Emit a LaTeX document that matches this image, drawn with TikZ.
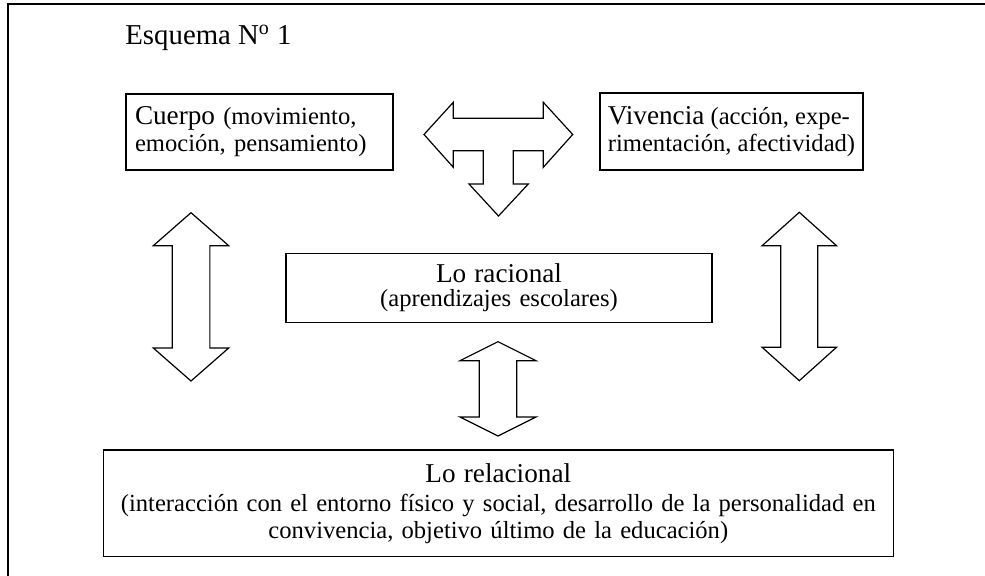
\documentclass[tikz,border=0pt]{standalone}
\usepackage{fontspec}
\setmainfont{Liberation Serif}
\newcommand{\headfont}{\fontsize{13.6}{15}\selectfont}
\newcommand{\bodyfont}{\fontsize{12.3}{13.4}\selectfont}
\newcommand{\vblockarrow}[6]{\draw[blockarrow] (#1,#2) -- ({#1+#5},{#2+#6}) -- ({#1+#4},{#2+#6}) -- ({#1+#4},{#3-#6}) -- ({#1+#5},{#3-#6}) -- (#1,#3) -- ({#1-#5},{#3-#6}) -- ({#1-#4},{#3-#6}) -- ({#1-#4},{#2+#6}) -- ({#1-#5},{#2+#6}) -- cycle;}
\begin{document}
\begin{tikzpicture}[x=0.5pt,y=-0.5pt,
    box/.style={draw,line width=0.6pt,inner sep=0pt,font=\bodyfont},
    blockarrow/.style={draw,line width=0.6pt}]
    \useasboundingbox (0,0) rectangle (985,576);
    \draw[line width=0.6pt] (8,576) -- (8,4) -- (985,4);
    \node[anchor=base west,inner sep=0pt,font=\fontsize{14.4}{16}\selectfont] (esquema) at (125,45) {Esquema N\textsuperscript{o} 1};
    \node[box,minimum width=133.5pt,minimum height=38pt,text width=124.5pt,align=left] (cuerpo) at (259.5,132)
        {{\headfont Cuerpo} (movimiento,\\emoción, pensamiento)};
    \node[box,minimum width=131.5pt,minimum height=38.5pt,align=left] (vivencia) at (731.5,131.5)
        {{\headfont Vivencia} (acción, expe-\\rimentación, afectividad)};
    \node[box,minimum width=213pt,minimum height=34.5pt,text width=205pt,align=center] (racional) at (499,287.8)
        {{\headfont Lo racional}\\[-1.4pt](aprendizajes escolares)};
    \node[box,minimum width=395pt,minimum height=53.35pt,text width=390pt,align=center] (relacional) at (498.3,503.3)
        {{\headfont Lo relacional}\\[1.1pt](interacción con el entorno físico y social, desarrollo de la personalidad en\\convivencia, objetivo último de la educación)};
    \draw[blockarrow] (424,134.5) -- (453.3,102.3) -- (453.3,118.3) -- (543.3,118.3) -- (543.3,102.3) -- (572.7,134.5)
        -- (543.3,167.3) -- (543.3,150.7) -- (513.3,150.7) -- (513.3,184) -- (528.3,184) -- (498.5,216) -- (469,184)
        -- (483.3,184) -- (483.3,150.7) -- (453.3,150.7) -- (453.3,167.3) -- cycle;
    \vblockarrow{191}{212.7}{381}{18.85}{37.7}{33}
    \vblockarrow{799.3}{212.3}{380.7}{18.5}{37.3}{33.5}
    \vblockarrow{498}{341.7}{436}{18.7}{38}{19}
\end{tikzpicture}
\end{document}
